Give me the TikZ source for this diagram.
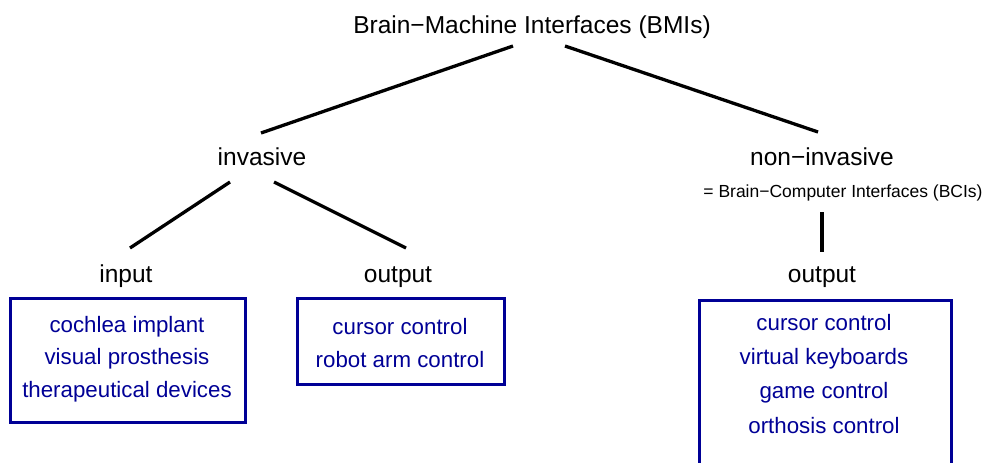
\documentclass[tikz,border=0pt]{standalone}
\usepackage{fontspec}
\setmainfont{Liberation Sans}
\definecolor{appblue}{RGB}{0,0,150}

\begin{document}
\begin{tikzpicture}[
  x=1pt, y=-1pt,
  link/.style={line width=3.3pt},
  cat/.style={anchor=base,inner sep=0pt,font=\fontsize{24.5}{28}\selectfont},
  note/.style={anchor=base,inner sep=0pt,font=\fontsize{17.5}{20}\selectfont},
  frame/.style={draw=appblue,line width=3pt,inner sep=0pt},
  apps/.style={anchor=base,inner sep=0pt,align=center,text=appblue,font=\fontsize{22.3}{32.5}\selectfont}
]
  \path[use as bounding box,clip] (0,0) rectangle (988,463);

  % category labels
  \node[cat] (bmi) at (532,33) {Brain\textminus Machine Interfaces (BMIs)};
  \node[cat] (inv) at (262,165) {invasive};
  \node[cat] (noninv) at (822,165) {non\textminus invasive};
  \node[note] (bci) at (843,197) {= Brain\textminus Computer Interfaces (BCIs)};
  \node[cat] (invin) at (126,282) {input};
  \node[cat] (invout) at (398,282) {output};
  \node[cat] (nonout) at (822,282) {output};

  % application boxes (list nodes sit on their last baseline)
  \node[frame,minimum width=235,minimum height=124] (inframe) at (127.5,360) {};
  \node[frame,minimum width=207,minimum height=86] (outframe) at (400.5,341) {};
  \node[frame,minimum width=252,minimum height=200] (bciframe) at (825,400) {};
  \node[apps] (inlist) at (127,397) {cochlea implant\\visual prosthesis\\therapeutical devices};
  \node[apps] (outlist) at (400,367) {cursor control\\robot arm control};
  \node[apps,font=\fontsize{22.3}{34.3}\selectfont] (bcilist) at (824,433)
    {cursor control\\virtual keyboards\\game control\\orthosis control};

  % line ends
  \coordinate (bmiL) at (513,46);
  \coordinate (bmiR) at (565,46);
  \coordinate (invT) at (261,133);
  \coordinate (noninvT) at (818,132);
  \coordinate (invL) at (230,182);
  \coordinate (invR) at (274,182);
  \coordinate (inT) at (130,248);
  \coordinate (outT) at (406,248);
  \coordinate (noninvB) at (822,212);
  \coordinate (nonoutT) at (822,252);

  \draw[link] (bmiL) -- (invT);
  \draw[link] (bmiR) -- (noninvT);
  \draw[link] (invL) -- (inT);
  \draw[link] (invR) -- (outT);
  \draw[link] (noninvB) -- (nonoutT);
\end{tikzpicture}
\end{document}
